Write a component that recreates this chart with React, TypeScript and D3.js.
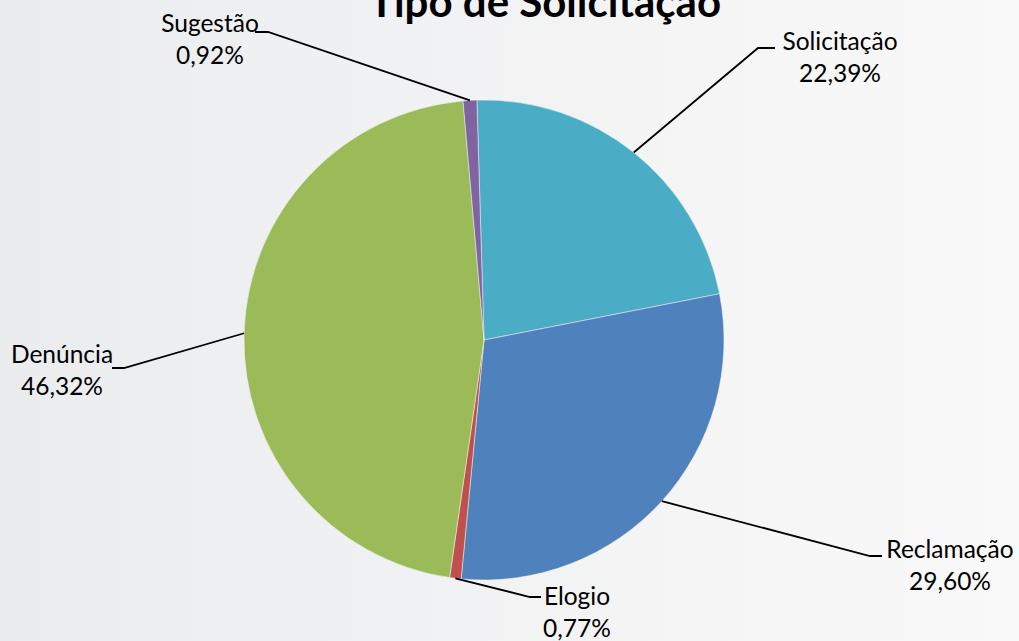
import * as d3 from 'd3';

const categories = ['Solicitação', 'Reclamação', 'Elogio', 'Denúncia', 'Sugestão'];
const shares = [22.39, 29.6, 0.77, 46.32, 0.92];
const colors = ['#4BACC6', '#4F81BD', '#C0504D', '#9BBB59', '#8064A2'];
const title = 'Tipo de Solicitação';

// label placement: first-line baseline, elbow of the leader line, end of its short horizontal
const labelLayout = [
  { x: 840, y: 50, ex: 758, ey: 48, hx: 775 },
  { x: 950, y: 558, ex: 870, ey: 556, hx: 882 },
  { x: 577, y: 605, ex: 530, ey: 597, hx: 541 },
  { x: 62, y: 363, ex: 124, ey: 368, hx: 112 },
  { x: 210, y: 32, ex: 268, ey: 32, hx: 255 },
];

const W = 1019;
const H = 641;
const cx = 484;
const cy = 340;
const r = 240;
const startAngle = (-1.7 * Math.PI) / 180;

const fmt = (v: number) => v.toFixed(2).replace('.', ',') + '%';

const App = () => {
  const rows = categories.map((c, i) => ({ name: c, value: shares[i], color: colors[i] }));
  const pie = d3
    .pie<(typeof rows)[number]>()
    .value((d) => d.value)
    .sort(null)
    .startAngle(startAngle)
    .endAngle(startAngle + 2 * Math.PI);
  const arcs = pie(rows);
  const arc = d3.arc<d3.PieArcDatum<(typeof rows)[number]>>().innerRadius(0).outerRadius(r);
  const edge = d3.arc<d3.PieArcDatum<(typeof rows)[number]>>().innerRadius(r).outerRadius(r);

  return (
    <svg width={W} height={H} style={{ position: 'absolute', left: 0, top: 0 }}>
      <defs>
        <linearGradient id="bg" x1="0" x2="1" y1="0" y2="0">
          <stop offset="0" stopColor="#ebecee" />
          <stop offset="1" stopColor="#f9f9f9" />
        </linearGradient>
      </defs>
      <rect width={W} height={H} fill="url(#bg)" />
      <text
        x={545}
        y={17}
        textAnchor="middle"
        fontFamily="Lato, sans-serif"
        fontWeight="bold"
        fontSize={42}
        fill="#000"
      >
        {title}
      </text>
      <g transform={`translate(${cx},${cy})`}>
        {arcs.map((a) => (
          <path key={a.data.name} d={arc(a) ?? ''} fill={a.data.color} stroke="#f4f4f4" strokeWidth={0.5} />
        ))}
      </g>
      {arcs.map((a, i) => {
        const L = labelLayout[i];
        const [px, py] = edge.centroid(a);
        return (
          <g key={a.data.name}>
            <polyline
              points={`${cx + px},${cy + py} ${L.ex},${L.ey} ${L.hx},${L.ey}`}
              fill="none"
              stroke="#000"
              strokeWidth={1.8}
            />
            <text
              x={L.x}
              y={L.y}
              textAnchor="middle"
              fontFamily="Lato, sans-serif"
              fontSize={24.5}
              fill="#000"
            >
              <tspan x={L.x}>{a.data.name}</tspan>
              <tspan x={L.x} dy={32}>
                {fmt(a.data.value)}
              </tspan>
            </text>
          </g>
        );
      })}
    </svg>
  );
};

export default App;
